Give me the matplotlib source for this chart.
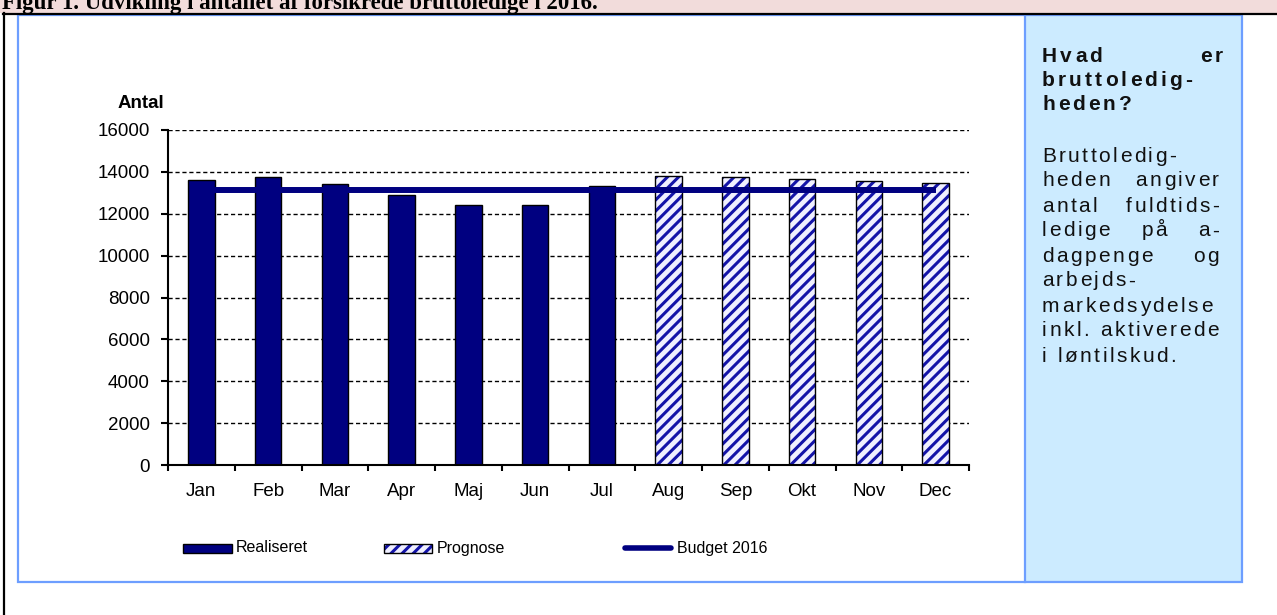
import numpy as np
import matplotlib
matplotlib.use("Agg")
import matplotlib.pyplot as plt
from matplotlib.patches import Rectangle
from matplotlib.font_manager import FontProperties, findfont, get_font

# data
months = ["Jan", "Feb", "Mar", "Apr", "Maj", "Jun", "Jul",
          "Aug", "Sep", "Okt", "Nov", "Dec"]
realiseret = [13600, 13770, 13430, 12900, 12420, 12420, 13320]
prognose = [13820, 13750, 13660, 13560, 13480]
budget_2016 = 13150
yticks = list(range(0, 16001, 2000))

title = "Figur 1. Udvikling i antallet af forsikrede bruttoledige i 2016."
box_head = [("Hvad er", True), ("bruttoledig-", False), ("heden?", False)]
box_body = [("Bruttoledig-", False), ("heden angiver", True),
            ("antal fuldtids-", True), ("ledige på a-", True),
            ("dagpenge og", True), ("arbejds-", False),
            ("markedsydelse", False), ("inkl. aktiverede", True),
            ("i løntilskud.", False)]

NAVY = "#000080"
HATCH = "#1414a8"

plt.rcParams["font.family"] = ["Liberation Sans", "DejaVu Sans"]
plt.rcParams["hatch.linewidth"] = 2.2

W, H = 1277, 615
fig = plt.figure(figsize=(W / 100, H / 100), dpi=100)

# background layer in pixel coordinates (y down)
bg = fig.add_axes([0, 0, 1, 1])
bg.set_xlim(0, W)
bg.set_ylim(H, 0)
bg.axis("off")

bg.add_patch(Rectangle((0, 0), W, 13, facecolor="#F2DCDB", edgecolor="none"))
bg.text(2, 9, title, family="Liberation Serif", weight="bold", fontsize=16.5,
        va="baseline", ha="left", color="black", zorder=1)
bg.add_patch(Rectangle((0, 13), W, H - 13, facecolor="white",
                       edgecolor="none", zorder=1.5))
bg.plot([3, W], [13.5, 13.5], color="black", lw=1.6, zorder=3)
bg.plot([3.5, 3.5], [13, H], color="black", lw=1.6, zorder=3)

bg.add_patch(Rectangle((1025, 15), 217, 567, facecolor="#CCEBFF",
                       edgecolor="none", zorder=2))
bg.add_patch(Rectangle((17.5, 15), 1224.5, 567, facecolor="none",
                       edgecolor="#6D9EFF", lw=1.6, zorder=2.5))
bg.plot([1025, 1025], [15, 582], color="#6D9EFF", lw=1.6, zorder=2.5)


def advances(text, fp):
    font = get_font(findfont(fp))
    font.set_size(fp.get_size_in_points(), 100)
    return [font.load_char(ord(c)).linearHoriAdvance / 65536 for c in text]


def spaced_line(x0, x1, y, line, justify, fp, s):
    words = line.split(" ")
    advs = [advances(w, fp) for w in words]
    widths = [sum(a) + s * (len(a) - 1) for a in advs]
    if justify and len(words) > 1:
        gap = (x1 - x0 - sum(widths)) / (len(words) - 1)
    else:
        gap = advances(" ", fp)[0] + 2 * s
    x = x0
    for w, a, wd in zip(words, advs, widths):
        cx = x
        for c, adv in zip(w, a):
            bg.text(cx, y, c, fontproperties=fp, ha="left", va="baseline",
                    color="#111111", zorder=4)
            cx += adv + s
        x += wd + gap


fp_head = FontProperties(family="Liberation Sans", weight="bold", size=15)
fp_body = FontProperties(family="Liberation Sans", size=15)
for i, (line, just) in enumerate(box_head):
    spaced_line(1042, 1223, 62 + 24 * i, line, just, fp_head, 3.1)
for i, (line, just) in enumerate(box_body):
    spaced_line(1042, 1219, 161.5 + 25 * i, line, just, fp_body, 2.5)

# chart
ax = fig.add_axes([168 / W, (H - 465) / H, 801 / W, 335 / H])
ax.patch.set_alpha(0)
x_real = np.arange(len(realiseret))
x_prog = np.arange(len(realiseret), len(realiseret) + len(prognose))
x_all = np.arange(len(months))

ax.bar(x_real, realiseret, width=0.4, color=NAVY, edgecolor="black",
       lw=1, zorder=2)
ax.bar(x_prog, prognose, width=0.4, color="#F0F0FF", edgecolor=HATCH,
       hatch="///", lw=0, zorder=2)
ax.bar(x_prog, prognose, width=0.4, fill=False, edgecolor="black",
       lw=1, zorder=2)
ax.plot(x_all[[0, -1]], [budget_2016, budget_2016], color=NAVY, lw=4.3,
        solid_capstyle="butt", zorder=3)

ax.set_xlim(-0.5, len(months) - 0.5)
ax.set_ylim(0, 16000)
ax.set_yticks(yticks)
ax.yaxis.grid(True, linestyle=(0, (3, 2)), color="black", lw=1.0)
ax.set_axisbelow(True)
for sp in ["top", "right"]:
    ax.spines[sp].set_visible(False)
for sp in ["left", "bottom"]:
    ax.spines[sp].set_linewidth(1.5)
ax.set_xticks(np.arange(-0.5, len(months), 1))
ax.set_xticklabels([])
ax.set_xticks(x_all, minor=True)
ax.set_xticklabels(months, minor=True)
ax.tick_params(axis="y", length=5, width=1.5, pad=8, labelsize=13.5)
ax.tick_params(axis="x", which="major", length=4, width=1.5)
ax.tick_params(axis="x", which="minor", length=0, pad=13, labelsize=13.5)

bg.text(141, 108, "Antal", weight="bold", fontsize=13.5, ha="center",
        va="baseline", zorder=4)

# legend
ly = 548
bg.add_patch(Rectangle((183, ly - 4.5), 49, 9, facecolor=NAVY,
                       edgecolor="black", lw=1, zorder=3))
bg.text(236, ly, "Realiseret", fontsize=11.5, va="center", ha="left", zorder=4)
bg.add_patch(Rectangle((384, ly - 4.5), 48, 9, facecolor="#F0F0FF",
                       edgecolor=HATCH, hatch="///", lw=0, zorder=3))
bg.add_patch(Rectangle((384, ly - 4.5), 48, 9, fill=False,
                       edgecolor="black", lw=1, zorder=3))
bg.text(437, ly, "Prognose", fontsize=11.5, va="center", ha="left", zorder=4)
bg.plot([625, 671], [ly, ly], color=NAVY, lw=4, solid_capstyle="round",
        zorder=3)
bg.text(677, ly, "Budget 2016", fontsize=11.5, va="center", ha="left",
        zorder=4)

fig.savefig("out.png", dpi=100)
